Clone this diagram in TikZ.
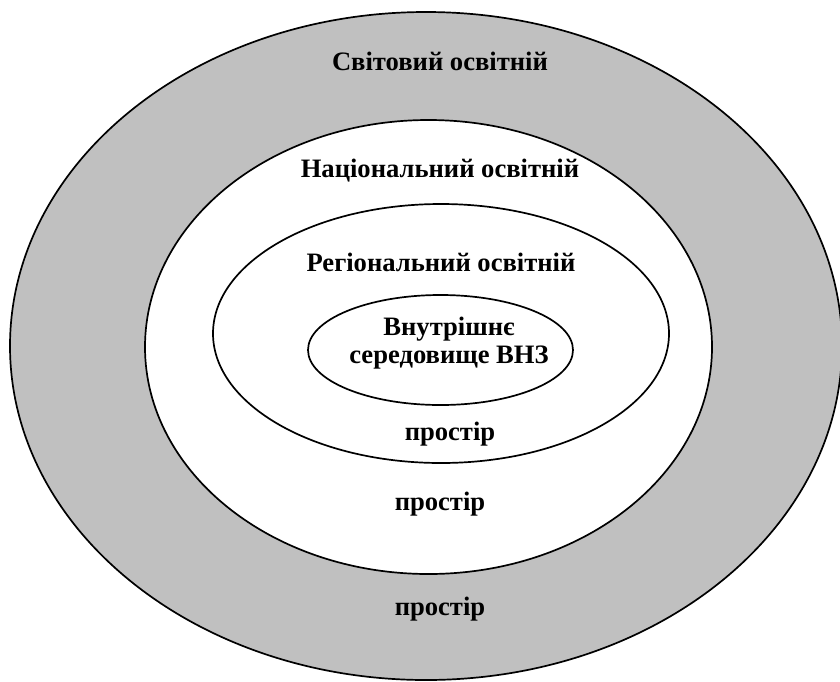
\documentclass[tikz,border=0pt]{standalone}
\usepackage{fontspec}
\setmainfont{Liberation Serif}
\usetikzlibrary{shapes.geometric}
\begin{document}
\begin{tikzpicture}[x=0.5pt,y=-0.5pt,
  ring/.style={draw=black, line width=0.85pt, ellipse, inner sep=0pt},
  lbl/.style={anchor=base, inner sep=0pt, font=\fontsize{13.3}{14}\selectfont\bfseries, align=center}]
\useasboundingbox (0,0) rectangle (840,681);
\node[ring, fill={rgb,255:red,192;green,192;blue,192}, minimum width=416pt, minimum height=334pt] (world) at (426,346) {};
\node[ring, fill=white, minimum width=283.5pt, minimum height=227pt] (nat) at (428.5,347) {};
\node[ring, fill=white, minimum width=228pt, minimum height=129.5pt] (reg) at (441,333.5) {};
\node[ring, fill=white, minimum width=132.5pt, minimum height=55pt] (inner) at (440.5,350) {};
\node[lbl] (t1) at (440,70) {Світовий освітній};
\node[lbl] (t2) at (440,177) {Національний освітній};
\node[lbl] (t3) at (441,271) {Регіональний освітній};
\node[lbl] (t4a) at (449,335) {Внутрішнє};
\node[lbl] (t4b) at (449,363) {середовище ВНЗ};
\node[lbl] (p3) at (450,440) {простір};
\node[lbl] (p2) at (440,510) {простір};
\node[lbl] (p1) at (440,615) {простір};
\end{tikzpicture}
\end{document}
